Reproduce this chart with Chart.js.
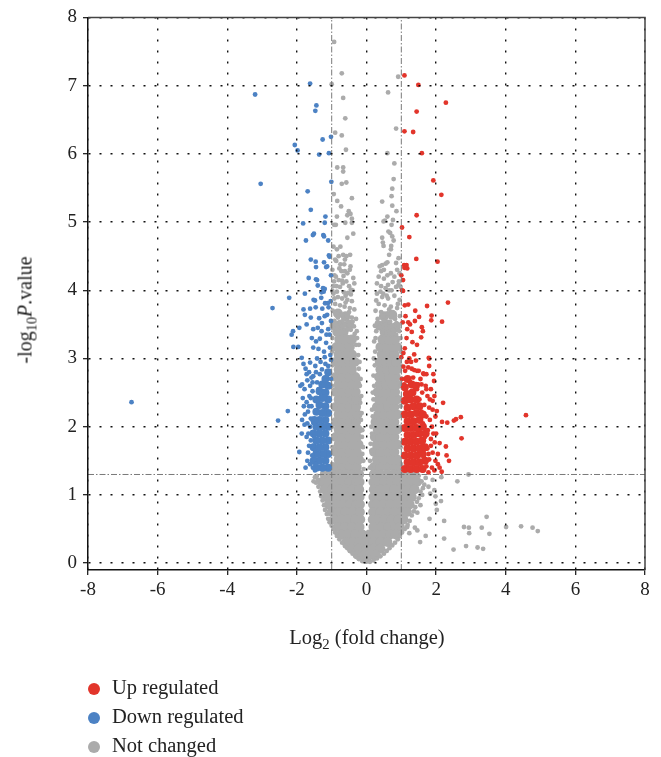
<!DOCTYPE html>
<html>
<head>
<meta charset="utf-8">
<script src="https://cdn.jsdelivr.net/npm/chart.js@4"></script>
<style>
body{margin:0;background:#fff;}
#wrap{position:relative;width:661px;height:757px;font-family:"Liberation Serif",serif;color:#222;}
#ytitle{position:absolute;left:25px;top:310px;transform:translate(-50%,-50%) rotate(-90deg);white-space:nowrap;font-size:20px;}
#xtitle{position:absolute;left:367px;top:637px;transform:translate(-50%,-50%);white-space:nowrap;font-size:20.5px;}
sub{font-size:0.72em;vertical-align:-0.35em;line-height:0;}
#legend{position:absolute;left:88px;top:674px;font-size:20.5px;}
#legend div{height:29px;line-height:26px;white-space:nowrap;}
#legend span{display:inline-block;width:12px;height:12px;border-radius:50%;margin-right:12px;vertical-align:-1px;}
</style>
</head>
<body>
<div id="wrap">
<canvas id="volcano"></canvas>
<div id="ytitle">-log<sub>10</sub><i>P</i>.value</div>
<div id="xtitle">Log<sub>2</sub> (fold change)</div>
<div id="legend"></div>
</div>
<script>
// axis ticks / thresholds
const xTicks=[-8,-6,-4,-2,0,2,4,6,8];
const yTicks=[0,1,2,3,4,5,6,7,8];
const foldCut=1;
const pCut=1.3;

// up regulated (log2FC, -log10 P)
const upRegulated=[
[1.09,7.15],[1.49,7.01],[2.28,6.75],[1.44,6.62],[1.09,6.33],[1.34,6.32],[1.59,6.01],[1.92,5.61],[2.15,5.4],
[1.44,5.1],[1.02,4.92],[1.23,4.78],[1.43,4.46],[2.04,4.42],[1.08,4.37],[1.15,4.37],[1.09,4.33],[1.17,4.32],
[1.0,4.22],[1.05,4.15],[1.02,4.0],[1.05,3.99],[2.34,3.82],[1.1,3.78],[1.2,3.79],[1.74,3.77],[1.87,3.63],
[1.51,3.61],[1.86,3.56],[2.17,3.54],[1.39,3.55],[1.04,3.53],[1.2,3.53],[1.59,3.46],[1.17,3.43],[1.3,3.39],
[1.57,3.31],[1.32,3.24],[1.1,3.15],[1.06,3.08],[1.37,3.06],[1.8,3.0],[1.23,3.0],[1.42,2.97],[1.16,2.95],
[1.0,3.02],[1.79,3.01],[1.8,2.89],[1.06,2.88],[1.2,2.87],[1.3,2.85],[1.37,2.83],[1.45,2.82],[1.11,2.82],
[1.65,2.77],[1.72,2.77],[1.92,2.77],[1.94,2.67],[2.02,2.23],[4.58,2.17],[2.17,2.07],[2.32,2.06],[2.51,2.09],
[2.57,2.11],[2.71,2.14],[2.73,1.83],[1.82,2.1],[1.96,1.77],[2.1,1.76],[2.28,1.71],[2.3,1.58],[2.37,1.5],
[2.16,1.34],[1.63,2.78],[1.55,2.7],[1.48,2.62],[1.7,2.6],[1.85,2.55],[1.6,2.5],[1.75,2.45],[1.52,2.4],
[1.9,2.38],[1.66,2.32],[1.8,2.28],[1.58,2.22],[1.72,2.15],[1.62,2.05],[1.88,2.0],[1.76,1.95],[1.55,1.9],
[1.68,1.85],[1.85,1.82],[1.6,1.75],[1.75,1.68],[1.9,1.62],[1.65,1.58],[1.8,1.52],[1.58,1.48],[1.72,1.42],
[1.88,1.4],[1.95,1.36],[1.62,1.36],[1.78,1.33],[2.05,1.45],[2.0,1.9],[1.95,2.45],[1.5,2.3],[1.45,2.55],
[2.2,2.35],[1.02,2.7],[1.08,2.62],[1.25,2.66],[1.34,2.72],
[1.78,1.6],[1.85,1.72],[1.92,1.9],[1.98,2.15],[1.9,2.25],[1.82,2.4],[1.72,2.55],[1.58,2.62],[1.5,2.82],
[1.28,2.95],[1.15,3.3],[1.45,3.2],[1.25,3.5],[1.4,3.7],[1.62,3.4],[1.12,3.62],[2.05,1.6],[2.1,1.4],[1.98,1.5]
];
const upCore=[
[1.1,1.38],[1.27,1.38],[1.44,1.38],[1.61,1.38],
[1.18,1.48],[1.35,1.48],[1.52,1.48],[1.68,1.5],
[1.1,1.58],[1.27,1.58],[1.44,1.58],[1.61,1.6],
[1.18,1.68],[1.35,1.68],[1.52,1.68],[1.68,1.7],
[1.1,1.78],[1.27,1.78],[1.44,1.78],[1.6,1.8],
[1.18,1.88],[1.35,1.88],[1.52,1.9],[1.7,1.9],
[1.1,1.98],[1.27,1.98],[1.44,1.98],[1.62,2.0],
[1.18,2.08],[1.35,2.08],[1.52,2.1],
[1.1,2.18],[1.27,2.18],[1.44,2.2],[1.62,2.18],
[1.18,2.28],[1.35,2.3],[1.52,2.3],
[1.1,2.38],[1.26,2.4],[1.44,2.4],
[1.16,2.48],[1.32,2.5],
[1.1,2.58],[1.3,2.62],[1.42,2.6],[1.18,2.7]
];

// down regulated
const downRegulated=[
[-6.75,2.36],[-3.2,6.87],[-3.04,5.56],[-2.7,3.74],[-2.54,2.09],[-2.26,2.23],[-2.22,3.89],[-2.15,3.35],
[-2.11,3.4],[-2.1,3.17],[-1.96,3.17],[-2.06,6.13],[-1.98,6.05],[-1.62,7.03],[-1.44,6.71],[-1.47,6.63],
[-1.26,6.21],[-1.02,6.25],[-1.36,5.99],[-1.08,6.01],[-1.01,5.59],[-1.69,5.45],[-1.6,5.18],[-1.18,5.08],
[-1.82,4.98],[-1.2,4.99],[-1.51,4.83],[-1.54,4.81],[-1.24,4.81],[-1.22,4.79],[-1.74,4.73],[-1.1,4.73],
[-1.6,4.45],[-1.46,4.42],[-1.45,4.34],[-1.22,4.41],[-1.08,4.51],[-1.06,4.49],[-1.16,4.34],[-1.13,4.35],
[-1.02,4.22],[-1.66,4.18],[-1.45,4.16],[-1.42,4.15],[-1.4,4.07],[-1.25,4.03],[-1.2,4.02],[-1.23,3.98],
[-1.29,3.97],[-1.77,3.95],[-1.3,3.89],[-1.48,3.85],[-1.52,3.86],[-1.19,3.81],[-1.11,3.81],[-1.03,3.84],
[-1.81,3.72],[-1.62,3.73],[-1.46,3.75],[-1.27,3.73],[-1.09,3.75],[-1.77,3.64],[-1.6,3.6],[-1.36,3.59],
[-1.13,3.64],[-1.93,3.45],[-1.72,3.5],[-1.53,3.43],[-1.29,3.4],[-1.1,3.43],[-1.57,3.3],[-1.34,3.29],
[-1.16,3.23],[-1.53,3.16],[-1.38,3.14],[-1.05,3.16],[-1.81,2.92],[-1.86,3.01],[-1.62,2.94],[-1.47,2.89],
[-1.28,2.84],[-1.1,2.89],[-1.72,2.77],[-1.53,2.74],[-1.34,2.77],[-1.14,2.74],[-1.93,1.63],[-1.86,1.9],
[-1.67,1.9],[-1.78,2.03],[-1.85,2.62],[-1.78,2.55],[-1.7,2.68],[-1.62,2.6],[-1.55,2.52],[-1.83,2.42],
[-1.72,2.36],[-1.64,2.45],[-1.58,2.3],[-1.77,2.18],[-1.68,2.22],[-1.6,2.12],[-1.52,2.05],[-1.62,2.0],
[-1.55,1.92],[-1.5,1.85],[-1.6,1.8],[-1.53,1.72],[-1.48,1.65],[-1.56,1.58],[-1.5,1.52],[-1.46,1.45],
[-1.54,1.4],[-1.48,1.36],[-1.7,1.5],[-1.65,2.3],[-1.8,2.3],[-1.9,2.6],[-1.75,2.85],[-1.65,2.8],
[-1.55,2.65],[-1.42,2.65],[-1.25,2.6],[-1.22,2.5],[-1.38,2.55],[-1.02,2.98],[-1.04,3.05],[-1.2,3.02],
[-1.42,3.0],[-1.02,2.7],[-1.06,3.35],[-1.02,3.55],
[-1.62,1.45],[-1.68,1.62],[-1.65,1.72],[-1.72,1.85],[-1.7,2.05],[-1.6,2.42],[-1.85,2.1],[-1.75,1.4],
[-1.58,2.72],[-1.45,2.8],[-1.32,2.95],[-1.18,2.92],[-1.22,3.1],[-1.45,3.25],[-1.28,3.52],[-1.15,3.35],
[-1.4,3.45],[-1.2,3.62]
];
const downCore=[
[-1.1,1.4],[-1.27,1.4],[-1.44,1.4],
[-1.18,1.5],[-1.35,1.5],[-1.52,1.5],
[-1.1,1.6],[-1.27,1.6],[-1.44,1.6],
[-1.18,1.7],[-1.35,1.7],[-1.52,1.7],
[-1.1,1.8],[-1.27,1.8],[-1.44,1.8],
[-1.18,1.9],[-1.35,1.9],[-1.52,1.9],
[-1.1,2.0],[-1.27,2.0],[-1.44,2.0],
[-1.18,2.1],[-1.35,2.1],[-1.5,2.1],
[-1.1,2.2],[-1.27,2.2],[-1.44,2.22],
[-1.18,2.3],[-1.35,2.32],
[-1.1,2.4],[-1.27,2.42],[-1.44,2.4],
[-1.18,2.5],[-1.35,2.52],
[-1.1,2.6],[-1.27,2.62],
[-1.18,2.7],[-1.1,2.8]
];

// not changed
const notChanged=[
[-0.93,7.64],[-0.71,7.18],[-1.0,7.02],[-0.67,6.82],[-0.61,6.52],[-0.9,6.31],[-0.71,6.27],[-0.59,6.06],
[-0.84,5.8],[-0.67,5.8],[-0.67,5.74],[-0.71,5.56],[-0.58,5.58],[-0.94,5.41],[-0.42,5.35],[-0.84,5.31],
[-0.73,5.23],[-0.51,5.16],[-0.46,5.12],[-0.55,5.1],[-0.85,5.08],[-0.42,5.05],[-0.42,4.99],[-0.93,4.96],
[-0.88,4.96],[-0.61,4.99],[-0.38,4.83],[-0.55,4.77],[-0.95,4.64],[-0.75,4.64],[-0.85,4.6],[-0.67,4.52],
[-0.58,4.5],[-0.47,4.52],[-0.87,4.43],[-0.75,4.38],[-0.64,4.38],[-0.46,4.35],[-0.48,4.3],[-0.72,4.28],
[-0.62,4.28],[-0.66,4.21],[-0.7,4.14],[-0.93,4.13],[-0.96,4.06],[-0.86,4.06],[-0.58,4.13],[-0.5,4.06],
[-0.45,4.01],[-0.53,3.96],[-0.45,3.94],[-0.6,3.92],[-0.98,4.3],[-0.92,4.22],[-0.8,4.15],[-0.76,4.05],
[-0.38,4.18],[-0.35,4.1],[-0.98,3.99],[-0.85,3.98],[-0.65,3.97],
[-0.95,3.95],[-0.82,3.9],[-0.7,3.88],[-0.55,3.86],[-0.42,3.84],[-0.9,3.8],[-0.76,3.78],[-0.63,3.76],
[-0.48,3.74],[-0.35,3.72],[-0.97,3.7],[-0.85,3.66],[-0.7,3.64],[-0.56,3.62],[-0.42,3.6],[-0.3,3.58],
[-0.92,3.55],[-0.78,3.52],[-0.62,3.5],[-0.5,3.5],[-0.36,3.47],[-0.96,3.45],[-0.28,3.4],[-0.55,3.42],
[-0.9,4.45],[-0.8,4.5],[-0.62,4.45],[-0.55,4.25],[-0.78,4.32],[-0.88,4.2],[-0.68,4.1],[-0.4,4.0],
[-0.92,3.88],[-0.6,3.82],[-0.5,3.68],[-0.82,3.6],[-0.66,3.57],[-0.4,3.54],[-0.88,3.5],[-0.7,3.47],
[-0.45,3.42],[-0.6,3.38],[-0.34,3.36],[-0.27,3.3],[-0.3,3.2],[-0.24,3.05],[-0.22,2.85],[-0.19,2.6],
[-0.18,2.35],[-0.16,2.1],[-0.13,1.85],[-0.12,1.6],[-0.08,1.38],
[0.91,7.13],[0.62,6.9],[0.85,6.37],[0.6,6.01],[0.8,5.86],[0.78,5.63],[0.74,5.49],[0.72,5.38],[0.45,5.3],
[0.74,5.24],[0.86,5.16],[0.6,5.08],[0.49,5.01],[0.53,5.02],[0.76,5.03],[0.72,4.96],[0.63,4.86],[0.68,4.84],
[0.45,4.77],[0.47,4.7],[0.74,4.79],[0.78,4.73],[0.49,4.65],[0.71,4.65],[0.7,4.6],[0.65,4.52],[0.92,4.47],
[0.45,4.37],[0.55,4.39],[0.6,4.41],[0.93,4.13],[0.92,4.08],[0.5,4.17],[0.62,4.08],[0.42,4.06],[0.55,4.03],
[0.65,4.0],[0.72,4.0],[0.48,3.95],[0.58,3.92],[0.88,4.3],[0.95,4.25],[0.8,4.2],[0.7,4.25],[0.35,4.2],
[0.42,4.28],[0.98,4.05],[0.3,4.1],
[0.3,3.95],[0.45,3.9],[0.62,3.88],[0.8,3.92],[0.95,3.86],[0.35,3.8],[0.52,3.78],[0.7,3.76],[0.88,3.74],
[0.26,3.7],[0.42,3.68],[0.6,3.66],[0.78,3.64],[0.96,3.62],[0.32,3.58],[0.5,3.56],[0.68,3.54],[0.86,3.52],
[0.24,3.48],[0.4,3.46],[0.58,3.44],[0.76,3.42],[0.94,3.4],
[0.38,4.35],[0.5,4.3],[0.85,4.4],[0.6,4.22],[0.75,4.12],[0.85,4.05],[0.4,3.98],[0.9,3.8],[0.28,3.85],
[0.65,3.72],[0.48,3.62],[0.82,3.58],[0.3,3.52],[0.55,3.5],[0.72,3.48],[0.92,3.5],[0.28,3.4],[0.46,3.38],
[0.66,3.36],[0.85,3.35],[0.26,3.3],[0.25,3.1],[0.24,2.9],[0.22,2.6],[0.2,2.4],[0.18,2.15],[0.16,1.9],
[0.14,1.65],[0.1,1.4],
[-0.98,3.3],[-0.99,3.1],[-0.98,2.9],[-0.99,2.6],[-0.98,2.3],[-0.99,2.0],[-0.98,1.7],[-0.99,1.45],
[-0.22,3.2],[-0.2,2.95],[-0.17,2.7],[-0.15,2.45],[-0.14,2.2],[-0.12,1.95],[-0.1,1.7],[-0.09,1.5],
[0.98,3.3],[0.99,3.1],[0.98,2.9],[0.99,2.6],[0.98,2.3],[0.99,2.0],[0.98,1.7],[0.99,1.45],
[0.22,3.25],[0.21,3.0],[0.2,2.75],[0.18,2.5],[0.16,2.25],[0.14,2.0],[0.12,1.75],[0.1,1.5],
[-1.48,1.26],[-1.4,1.22],[-1.38,1.12],[-1.33,1.05],[-1.3,0.98],[-1.26,0.92],[-1.22,0.85],[-1.19,0.78],
[-1.14,0.72],[-1.1,0.65],[-1.06,0.6],[-1.0,0.55],[-0.95,0.5],[-0.9,0.45],[-0.85,0.4],[-0.78,0.35],
[-0.7,0.3],[-0.62,0.25],[-0.55,0.22],[-0.48,0.18],[-0.4,0.14],[-0.32,0.1],[-0.22,0.06],[-0.12,0.03],
[-1.45,1.18],[-1.52,1.2],[-1.42,1.28],
[1.5,1.28],[1.58,1.2],[1.62,1.1],[1.55,1.05],[1.5,0.95],[1.45,0.9],[1.4,0.82],[1.36,0.76],[1.3,0.7],
[1.24,0.62],[1.18,0.56],[1.1,0.5],[1.02,0.45],[0.96,0.4],[0.9,0.35],[0.82,0.3],[0.74,0.26],[0.66,0.22],
[0.58,0.18],[0.5,0.14],[0.4,0.1],[0.3,0.07],[0.2,0.04],[0.1,0.02],[1.7,1.25],[1.66,1.15],[1.6,1.0],
[1.55,0.85],[1.46,0.74],
[2.93,1.3],[2.61,1.2],[2.15,1.26],[1.9,1.22],[1.95,1.07],[1.98,0.98],[2.14,0.91],[1.99,0.87],[2.02,0.78],
[1.81,0.65],[2.23,0.62],[3.45,0.68],[2.8,0.53],[2.94,0.52],[2.95,0.44],[3.31,0.52],[3.53,0.43],[4.01,0.53],
[4.44,0.54],[4.77,0.52],[4.92,0.47],[2.23,0.36],[1.7,0.4],[1.54,0.31],[2.5,0.2],[2.86,0.25],[3.19,0.23],
[3.35,0.21],[1.39,0.52],[1.46,0.48],[1.23,0.44],[1.17,0.53],[1.78,1.12],[1.83,1.02]
];
const notChangedCore=[
[-0.88,1.41],[-0.68,1.41],[-0.48,1.41],[-0.28,1.41],
[-0.8,1.52],[-0.6,1.52],[-0.4,1.52],[-0.22,1.52],
[-0.88,1.63],[-0.68,1.63],[-0.48,1.63],[-0.28,1.63],
[-0.8,1.74],[-0.6,1.74],[-0.4,1.74],[-0.23,1.74],
[-0.88,1.85],[-0.68,1.85],[-0.48,1.85],[-0.28,1.85],
[-0.8,1.96],[-0.6,1.96],[-0.4,1.96],[-0.25,1.96],
[-0.88,2.07],[-0.68,2.07],[-0.48,2.07],[-0.3,2.07],
[-0.8,2.18],[-0.6,2.18],[-0.4,2.18],[-0.26,2.18],
[-0.88,2.29],[-0.68,2.29],[-0.48,2.29],[-0.3,2.29],
[-0.8,2.4],[-0.6,2.4],[-0.4,2.4],[-0.28,2.4],
[-0.88,2.51],[-0.68,2.51],[-0.48,2.51],[-0.31,2.51],
[-0.8,2.62],[-0.6,2.62],[-0.4,2.62],[-0.29,2.62],
[-0.88,2.73],[-0.68,2.73],[-0.48,2.73],[-0.32,2.73],
[-0.8,2.84],[-0.6,2.84],[-0.42,2.84],
[-0.88,2.95],[-0.68,2.95],[-0.48,2.95],[-0.34,2.95],
[-0.8,3.06],[-0.6,3.06],[-0.42,3.06],
[-0.86,3.17],[-0.66,3.17],[-0.48,3.17],
[-0.78,3.28],[-0.58,3.28],[-0.42,3.28],
[-0.84,3.39],[-0.66,3.39],
[-0.5,3.5],[-0.74,3.5],[-0.92,3.48],[-0.6,3.62],[-0.82,3.66],
[0.22,1.41],[0.4,1.41],[0.6,1.41],[0.8,1.41],[0.88,1.41],
[0.3,1.52],[0.5,1.52],[0.7,1.52],[0.88,1.52],
[0.22,1.63],[0.4,1.63],[0.6,1.63],[0.8,1.63],
[0.3,1.74],[0.5,1.74],[0.7,1.74],[0.88,1.74],
[0.24,1.85],[0.4,1.85],[0.6,1.85],[0.8,1.85],
[0.32,1.96],[0.5,1.96],[0.7,1.96],[0.88,1.96],
[0.26,2.07],[0.42,2.07],[0.6,2.07],[0.8,2.07],
[0.34,2.18],[0.52,2.18],[0.7,2.18],[0.88,2.18],
[0.3,2.29],[0.44,2.29],[0.62,2.29],[0.8,2.29],
[0.36,2.4],[0.54,2.4],[0.72,2.4],[0.88,2.4],
[0.32,2.51],[0.46,2.51],[0.64,2.51],[0.82,2.51],
[0.38,2.62],[0.56,2.62],[0.74,2.62],[0.88,2.62],
[0.36,2.73],[0.5,2.73],[0.66,2.73],[0.84,2.73],
[0.4,2.84],[0.58,2.84],[0.76,2.84],[0.88,2.84],
[0.38,2.95],[0.54,2.95],[0.7,2.95],[0.86,2.95],
[0.44,3.06],[0.62,3.06],[0.8,3.06],
[0.4,3.17],[0.58,3.17],[0.76,3.17],[0.88,3.17],
[0.46,3.28],[0.64,3.28],[0.82,3.28],
[0.52,3.39],[0.72,3.39],
[0.38,3.48],[0.6,3.5],[0.84,3.46],[0.5,3.62],[0.74,3.64],
[-1.2,1.3],[-1.0,1.3],[-0.8,1.3],[-0.6,1.3],[-0.4,1.3],[-0.21,1.3],[0.21,1.3],[0.4,1.3],[0.6,1.3],[0.8,1.3],[1.0,1.3],[1.2,1.3],[1.38,1.3],
[-1.28,1.19],[-1.1,1.19],[-0.9,1.19],[-0.7,1.19],[-0.5,1.19],[-0.3,1.19],[-0.2,1.19],[0.2,1.19],[0.3,1.19],[0.5,1.19],[0.7,1.19],[0.9,1.19],[1.1,1.19],[1.3,1.19],[1.45,1.19],
[-1.2,1.08],[-1.0,1.08],[-0.8,1.08],[-0.6,1.08],[-0.4,1.08],[-0.21,1.08],[0.21,1.08],[0.4,1.08],[0.6,1.08],[0.8,1.08],[1.0,1.08],[1.2,1.08],[1.38,1.08],
[-1.14,0.97],[-0.94,0.97],[-0.74,0.97],[-0.54,0.97],[-0.34,0.97],[-0.2,0.97],[0.2,0.97],[0.34,0.97],[0.54,0.97],[0.74,0.97],[0.94,0.97],[1.14,0.97],[1.3,0.97],
[-1.08,0.86],[-0.88,0.86],[-0.68,0.86],[-0.48,0.86],[-0.28,0.86],[-0.19,0.86],[0.19,0.86],[0.28,0.86],[0.48,0.86],[0.68,0.86],[0.88,0.86],[1.08,0.86],[1.24,0.86],
[-1.0,0.75],[-0.8,0.75],[-0.6,0.75],[-0.4,0.75],[-0.19,0.75],[0.19,0.75],[0.4,0.75],[0.6,0.75],[0.8,0.75],[1.0,0.75],[1.16,0.75],
[-0.92,0.64],[-0.72,0.64],[-0.52,0.64],[-0.32,0.64],[-0.18,0.64],[0.18,0.64],[0.32,0.64],[0.52,0.64],[0.72,0.64],[0.92,0.64],[1.06,0.64],
[-0.82,0.53],[-0.62,0.53],[-0.42,0.53],[-0.2,0.53],[0.2,0.53],[0.42,0.53],[0.62,0.53],[0.82,0.53],[0.96,0.53],
[-0.72,0.42],[-0.52,0.42],[-0.32,0.42],[-0.12,0.42],[0.08,0.42],[0.28,0.42],[0.48,0.42],[0.68,0.42],[0.84,0.42],
[-0.58,0.31],[-0.4,0.31],[-0.2,0.31],[0.0,0.31],[0.2,0.31],[0.4,0.31],[0.6,0.31],
[-0.42,0.21],[-0.22,0.21],[0.0,0.21],[0.2,0.21],[0.4,0.21],
[-0.24,0.12],[-0.06,0.12],[0.1,0.12],[0.26,0.12],
[0.0,0.06]
];

const legendItems=["Up regulated","Down regulated","Not changed"];
const colors=["#e2352b","#4c82c4","#ababab"];

const pts=a=>a.map(([x,y])=>({x,y}));
const dots=(data,color,r)=>({data:pts(data),backgroundColor:color,borderWidth:0,pointRadius:r,pointHoverRadius:r});
const cutLine=data=>({data:pts(data),showLine:true,borderColor:"#7a7a7a",borderWidth:1,borderDash:[6,2,1.5,2],pointRadius:0,fill:false});

const yMin=-0.1, yMax=8;

new Chart(document.getElementById("volcano"),{
type:"scatter",
data:{datasets:[
cutLine([[-foldCut,yMin],[-foldCut,yMax]]),
cutLine([[foldCut,yMin],[foldCut,yMax]]),
cutLine([[-8,pCut],[8,pCut]]),
dots(upRegulated,colors[0],2.4),
dots(downRegulated,colors[1],2.4),
dots(upCore,colors[0],4),
dots(downCore,colors[1],4),
dots(notChanged,colors[2],2.4),
dots(notChangedCore,colors[2],5)
]},
options:{
animation:false,
responsive:true,
maintainAspectRatio:false,
layout:{padding:{left:0,top:14,right:16,bottom:147}},
plugins:{legend:{display:false},tooltip:{enabled:false}},
scales:{
x:{
type:"linear",min:-8,max:8,
afterBuildTicks:s=>{s.ticks=xTicks.map(v=>({value:v}));},
afterFit:s=>{s.height=40;},
grid:{color:"#111",lineWidth:1.4,z:1,tickLength:5,tickColor:"#111",tickWidth:1.2},
border:{color:"#111",width:1.5,dash:[2,9],z:2},
ticks:{font:{family:"Liberation Serif",size:19},color:"#222",padding:4,maxRotation:0}
},
y:{
type:"linear",min:yMin,max:yMax,
afterBuildTicks:s=>{s.ticks=yTicks.map(v=>({value:v}));},
afterFit:s=>{s.width=88;},
grid:{color:"#111",lineWidth:1.4,z:1,tickLength:5,tickColor:"#111",tickWidth:1.2},
border:{color:"#111",width:1.5,dash:[2,9],z:2},
ticks:{font:{family:"Liberation Serif",size:19},color:"#222",padding:6}
}
}
},
plugins:[{
id:"frame",
afterDraw(chart){
const {ctx,chartArea:a}=chart;
ctx.save();
ctx.strokeStyle="#444";
ctx.lineWidth=1.5;
ctx.beginPath();
ctx.moveTo(a.left,a.top);
ctx.lineTo(a.right,a.top);
ctx.lineTo(a.right,a.bottom);
ctx.stroke();
ctx.restore();
}
}]
});

const lg=document.getElementById("legend");
legendItems.forEach((t,i)=>{
const row=document.createElement("div");
row.innerHTML='<span style="background:'+colors[i]+'"></span>'+t;
lg.appendChild(row);
});
</script>
</body>
</html>
